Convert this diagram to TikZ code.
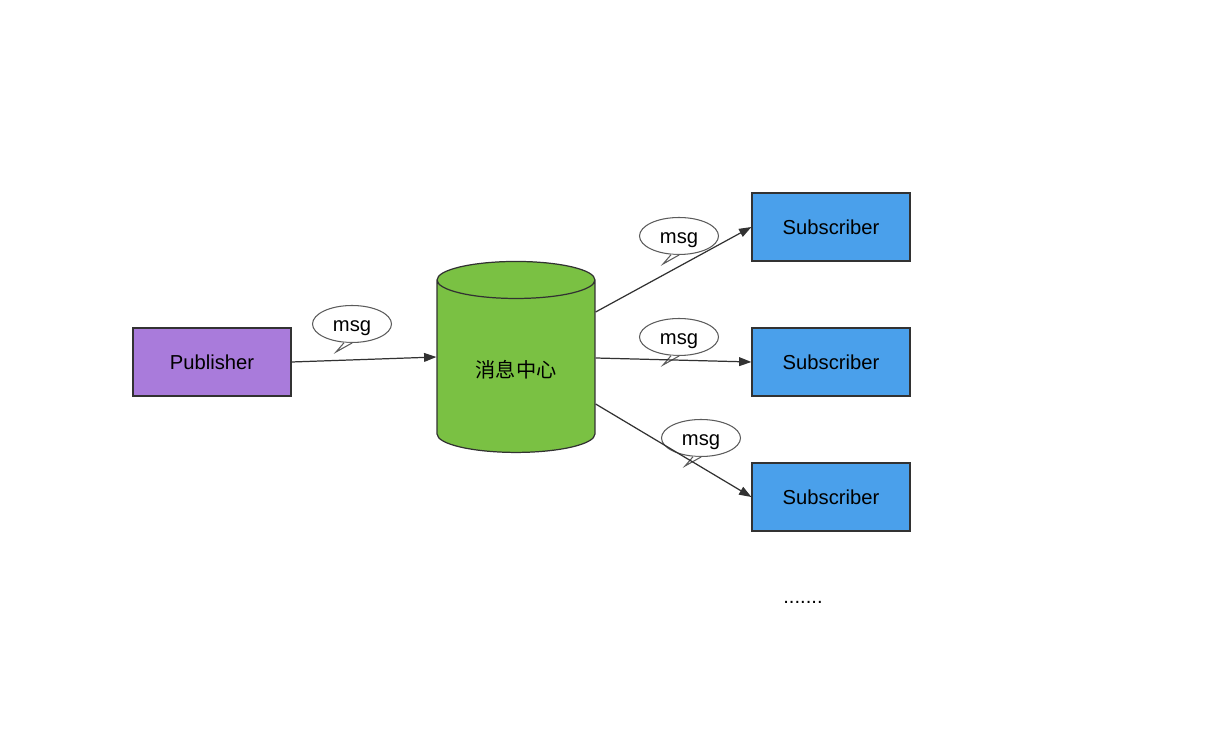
\documentclass[tikz,border=0pt]{standalone}
\usepackage{fontspec}
\setmainfont{Liberation Sans}
\newfontfamily\cjk{Noto Sans CJK SC}
\usetikzlibrary{shapes.geometric,calc,arrows.meta}

\definecolor{pubpurple}{RGB}{169,123,219}
\definecolor{hubgreen}{RGB}{122,193,67}
\definecolor{subblue}{RGB}{74,160,235}
\definecolor{edgegray}{RGB}{50,50,50}

\tikzset{
  box/.style={draw=edgegray, line width=0.7pt, minimum width=3.16cm, minimum height=1.36cm, font=\fontsize{11.5}{13}\selectfont},
  bubble/.style={draw=edgegray!80, line width=0.6pt, ellipse, inner sep=0pt, minimum width=1.58cm, minimum height=0.74cm,
                 text height=0.8em, text depth=0pt, font=\fontsize{11.5}{13}\selectfont},
  msgarrow/.style={draw=edgegray, line width=0.7pt, -{Triangle[length=7pt,width=5pt]}}
}

% speech bubble with a small tail pointing down-left
\newcommand{\msgbubble}[2]{%
  \node[bubble] (#1) at (#2) {msg};
  \fill[white] (#1.247) -- ($(#1.center)+(-16,28)$) -- (#1.270) -- cycle;
  \draw[edgegray!80, line width=0.6pt, line join=miter] (#1.247) -- ($(#1.center)+(-16,28)$) -- (#1.270);
}

\begin{document}
\begin{tikzpicture}[x=0.02cm, y=-0.02cm]
    % canvas
    \useasboundingbox (0,0) rectangle (1226,732);

    % Publisher and message hub
    \node[box, fill=pubpurple] (pub) at (212,362) {Publisher};
    \node[draw=edgegray, line width=0.7pt, fill=hubgreen, shape=cylinder, shape border rotate=90, aspect=0.4,
          minimum width=3.16cm, minimum height=3.82cm] (hub) at (516,370) {\cjk\fontsize{11.5}{13}\selectfont 消息中心};

    % Subscribers
    \node[box, fill=subblue] (sub1) at (831,227) {Subscriber};
    \node[box, fill=subblue] (sub2) at (831,362) {Subscriber};
    \node[box, fill=subblue] (sub3) at (831,497) {Subscriber};
    \node[font=\fontsize{11.5}{13}\selectfont] (more) at (803,602) {.......};

    % msg bubbles
    \msgbubble{msgA}{352,324}
    \msgbubble{msgB}{679,236}
    \msgbubble{msgC}{679,337}
    \msgbubble{msgD}{701,438}

    % arrows
    \draw[msgarrow] (pub.east) -- ([yshift=0.26cm]hub.west);
    \draw[msgarrow] ([yshift=1.16cm]hub.east) -- (sub1.west);
    \draw[msgarrow] ([yshift=0.24cm]hub.east) -- (sub2.west);
    \draw[msgarrow] ([yshift=-0.68cm]hub.east) -- (sub3.west);
\end{tikzpicture}
\end{document}
